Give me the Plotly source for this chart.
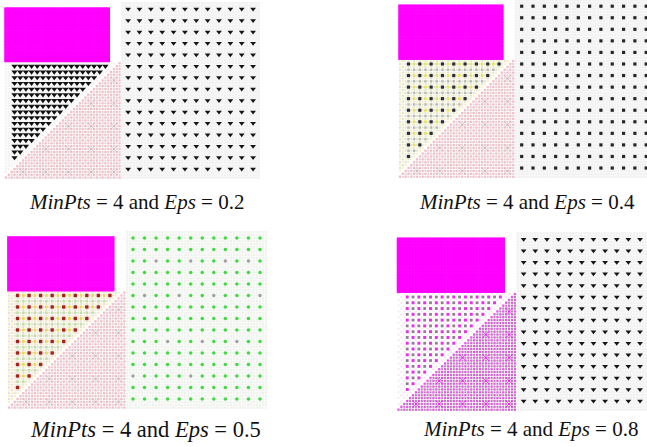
import numpy as np
import plotly.graph_objects as go

W, H = 647, 447

# ---- synthetic grid dataset (grid units) ----
min_pts = 4
eps_values = [0.2, 0.4, 0.5, 0.8]

rect_x = [0, 36]        # dense rectangular cluster
rect_y = [41, 59]
square_x = [0, 40]      # square split into two triangular clusters
square_y = [0, 40]
upper_x = [3, 35]       # upper-left triangle, medium density (step 2)
upper_y = [7, 39]
right_x = [43, 87]      # sparse grid on the right (step 4)
right_y = [3, 59]
noise_x = [41, 89]      # low-level background points on the right
noise_y = [0, 61]
cross_x = [6, 14, 22, 30, 38]
cross_y = [2, 10, 18, 26, 34]
# sparse-grid points that stay noise in the Eps = 0.5 run (column, row indices)
grey_cols_05 = [2, 5, 8, 10, 1, 4, 7, 11, 3, 6, 9, 0, 5]
grey_rows_05 = [2, 2, 2, 2, 5, 5, 5, 5, 9, 9, 9, 12, 12]


def grid(xs, ys, step):
    gx, gy = np.meshgrid(np.arange(xs[0], xs[1] + 1, step),
                         np.arange(ys[0], ys[1] + 1, step))
    return gx.ravel(), gy.ravel()


rx, ry = grid(rect_x, rect_y, 1)
sx_, sy_ = grid(square_x, square_y, 1)
low = sx_ >= sy_
lx, ly = sx_[low], sy_[low]
upf = sx_ <= sy_ - 2
ufx, ufy = sx_[upf], sy_[upf]
ux, uy = grid(upper_x, upper_y, 2)
keep = ux <= uy - 4
ux, uy = ux[keep], uy[keep]
on4 = ((ux - 3) % 4 == 0) & ((uy - 3) % 4 == 0)
gx_, gy_ = grid(right_x, right_y, 4)
nx, ny = grid(noise_x, noise_y, 1)
cgx, cgy = np.meshgrid(cross_x, cross_y)
cgx, cgy = cgx.ravel(), cgy.ravel()
cm = cgx > cgy + 2
cxs, cys = cgx[cm], cgy[cm]

# panel placement: origin (px), scale (px per unit)
panels = [
    dict(ox=6.0, oy=177.6, sx=2.84, sy=2.857, cap=(136, 202), fs=21),
    dict(ox=400.0, oy=176.7, sx=2.83, sy=2.89, cap=(527, 202), fs=21),
    dict(ox=8.9, oy=407.6, sx=2.886, sy=2.875, cap=(145, 429), fs=22.5),
    dict(ox=398.5, oy=409.7, sx=2.91, sy=2.89, cap=(530, 429), fs=21),
]
XR = [-2, 90]
YR = [-2, 62]
SERIF = "Liberation Serif, Times New Roman, Times, serif"

fig = go.Figure()


def add(k, x, y, color, size, symbol="square", line=None):
    mk = dict(color=color, size=size, symbol=symbol, line=dict(width=0))
    if line is not None:
        mk["line"] = line
    fig.add_trace(go.Scatter(x=x, y=y, mode="markers", marker=mk,
                             xaxis=f"x{k}", yaxis=f"y{k}", hoverinfo="skip",
                             showlegend=False, cliponaxis=False))


for i, p in enumerate(panels):
    k = i + 1
    eps = eps_values[i]
    # axes
    x0 = p["ox"] + XR[0] * p["sx"]
    x1 = p["ox"] + XR[1] * p["sx"]
    xr = list(XR)
    if x1 > W:
        xr[1] = (W - p["ox"]) / p["sx"]
        x1 = W
    top = p["oy"] - YR[1] * p["sy"]
    bot = p["oy"] - YR[0] * p["sy"]
    yr = list(YR)
    if top < 0:
        yr[1] = p["oy"] / p["sy"]
        top = 0
    ax = dict(visible=False, fixedrange=True, range=xr, domain=[x0 / W, x1 / W])
    ay = dict(visible=False, fixedrange=True, range=yr,
              domain=[1 - bot / H, 1 - top / H])
    fig.update_layout({f"xaxis{k}": dict(ax, anchor=f"y{k}"),
                       f"yaxis{k}": dict(ay, anchor=f"x{k}")})

    # background noise points on the right
    if eps == 0.5:
        chn = (nx + ny) % 3 == 0
        add(k, nx[~chn], ny[~chn], "#f5f2f3", 2.4)
        add(k, nx[chn], ny[chn], "#e8f6e6", 2.4)
    else:
        add(k, nx, ny, "#f2f2f2", 2.6)

    # lower-right triangle
    chk = (lx + ly) % 2 == 0
    if eps < 0.8:
        add(k, lx[chk], ly[chk], "#f5bcc8", 2.3)
        add(k, lx[~chk], ly[~chk], "#dcd0d2", 1.9)
        add(k, cxs, cys, "rgba(170,170,170,0.45)", 6, "x-thin-open",
            dict(width=1, color="rgba(170,170,170,0.45)"))
    else:
        add(k, lx[chk], ly[chk], "#f050f0", 2.3)
        add(k, lx[~chk], ly[~chk], "#9a8c9a", 2.0)
        add(k, cxs, cys, "rgba(255,0,255,0.7)", 6, "x-thin-open",
            dict(width=1, color="rgba(255,0,255,0.7)"))

    # upper-left triangle
    if eps == 0.2:
        add(k, ufx, ufy, "#f3f3f3", 2.2)
        add(k, ux, uy, "#111111", 5.5, "triangle-down")
    elif eps == 0.4:
        ch = (ufx + ufy) % 2 == 0
        add(k, ufx[ch], ufy[ch], "#f6f3c4", 2.2)
        add(k, ufx[~ch], ufy[~ch], "#e0e0dc", 2.0)
        yel = (~on4) & ((uy - 3) % 4 == 0)
        add(k, ux[yel], uy[yel], "#e8e45a", 2.8)
        add(k, ux[(~on4) & (~yel)], uy[(~on4) & (~yel)], "#bdbdae", 2.5)
        add(k, ux[on4], uy[on4], "#2e2e2e", 3.2)
    elif eps == 0.5:
        ch = (ufx + ufy) % 2 == 0
        add(k, ufx[ch], ufy[ch], "#f6efc6", 2.2)
        add(k, ufx[~ch], ufy[~ch], "#e6dcdc", 2.0)
        yel = (~on4) & ((uy - 3) % 4 == 0)
        add(k, ux[yel], uy[yel], "#e4dc4a", 2.8)
        grn = (~on4) & (~yel)
        add(k, ux[grn], uy[grn], "#bfe0a4", 2.6)
        add(k, ux[on4], uy[on4], "#a3241c", 3.4)
    else:
        ch = (ufx + ufy) % 2 == 0
        add(k, ufx[ch], ufy[ch], "#f7e8f7", 2.0)
        mg = ((ux + uy) % 4 == 2)
        add(k, ux[mg], uy[mg], "#ee30ee", 3.0)
        add(k, ux[~mg], uy[~mg], "#8e7e8e", 2.8)

    # dense rectangle
    add(k, rx, ry, "#ff00ff", 3.5)

    # sparse grid on the right
    if eps == 0.2 or eps == 0.8:
        add(k, gx_, gy_, "#151515", 5, "triangle-down")
    elif eps == 0.4:
        add(k, gx_, gy_, "#262626", 3.2)
    else:
        cols = np.arange(right_x[0], right_x[1] + 1, 4)
        rows = np.arange(right_y[1], right_y[0] - 1, -4)
        gxs = cols[grey_cols_05]
        gys = rows[grey_rows_05]
        is_grey = np.zeros(len(gx_), dtype=bool)
        for a, b in zip(gxs, gys):
            is_grey |= (gx_ == a) & (gy_ == b)
        add(k, gx_[~is_grey], gy_[~is_grey], "#44d844", 3.6, "circle")
        add(k, gx_[is_grey], gy_[is_grey], "#a0a0a0", 3.4, "circle")

    fig.add_annotation(
        x=p["cap"][0] / W, y=1 - p["cap"][1] / H, xref="paper", yref="paper",
        text=f"<i>MinPts</i> = {min_pts} and <i>Eps</i> = {eps}",
        showarrow=False, xanchor="center", yanchor="middle",
        font=dict(family=SERIF, size=p["fs"], color="#111111"))

fig.update_layout(width=W, height=H, margin=dict(l=0, r=0, t=0, b=0),
                  paper_bgcolor="white", plot_bgcolor="white")
fig.write_html("out.html")
